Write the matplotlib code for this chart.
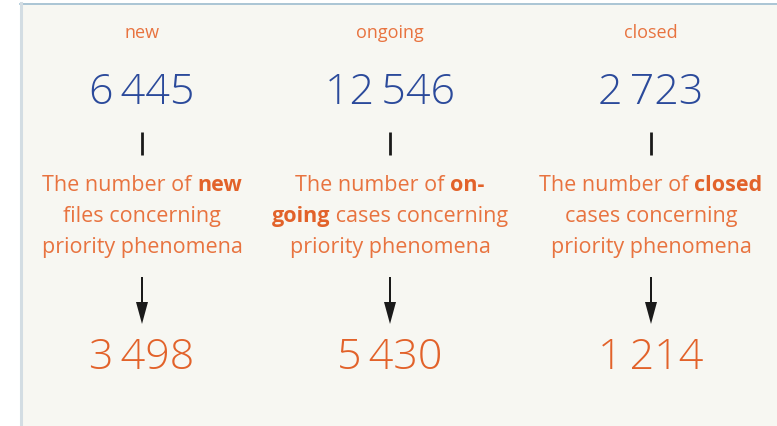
import matplotlib
matplotlib.use("Agg")
import matplotlib.pyplot as plt
from matplotlib.patches import FancyArrow

# ---- data ----
categories = ["new", "ongoing", "closed"]
total_values = [6445, 12546, 2723]
priority_values = [3498, 5430, 1214]
# description lines: list of (text, bold) segments per line
descriptions = [
    [[("The number of ", False), ("new", True)],
     [("files concerning", False)],
     [("priority phenomena", False)]],
    [[("The number of ", False), ("on-", True)],
     [("going", True), (" cases concerning", False)],
     [("priority phenomena", False)]],
    [[("The number of ", False), ("closed", True)],
     [("cases concerning", False)],
     [("priority phenomena", False)]],
]

# ---- style ----
W, H = 777, 427
BG_PANEL = "#f7f7f2"
BLUE = "#2b4a9b"
ORANGE = "#e2622a"
ORANGE_LIGHT = "#e8733f"
FAM = ["Open Sans", "DejaVu Sans"]


def fmt(v):
    s = f"{v:,}"
    return s.replace(",", "\u2006")


fig = plt.figure(figsize=(W / 100, H / 100), dpi=100)
fig.patch.set_facecolor("white")
ax = fig.add_axes([0, 0, 1, 1])
ax.set_xlim(0, W)
ax.set_ylim(H, 0)
ax.axis("off")

# panel
ax.add_patch(plt.Rectangle((20, 4), W - 20, H - 4, facecolor=BG_PANEL,
                           edgecolor="none", zorder=0))
ax.plot([20, W], [4.5, 4.5], color="#9dbdd0", lw=1.2, zorder=1)
ax.plot([20.5, 20.5], [4, H], color="#d3dde3", lw=2.2, zorder=1)

xs = [142, 390, 651]

fig.canvas.draw()
renderer = fig.canvas.get_renderer()

for i, cat in enumerate(categories):
    x = xs[i]
    ax.text(x, 33, cat, ha="center", va="center", fontsize=13,
            color=ORANGE_LIGHT, family=FAM)
    ax.text(x, 93, fmt(total_values[i]), ha="center", va="center",
            fontsize=31, color=BLUE, family=FAM, fontweight="light")
    ax.plot([x, x], [133, 156], color="#1a1a1a", lw=2.0,
            solid_capstyle="butt")

    baselines = [191, 222, 253]
    for line, yb in zip(descriptions[i], baselines):
        texts = []
        for seg, bold in line:
            t = ax.text(0, yb, seg, ha="left", va="baseline", fontsize=15.5,
                        color=ORANGE if bold else ORANGE_LIGHT,
                        fontweight="bold" if bold else "normal", family=FAM)
            texts.append(t)
        widths = [t.get_window_extent(renderer).width for t in texts]
        total = sum(widths)
        cur = x - total / 2
        for t, w in zip(texts, widths):
            t.set_x(cur)
            cur += w

    ax.add_patch(FancyArrow(x, 278, 0, 47, width=2.0, head_width=12,
                            head_length=22, length_includes_head=True,
                            color="#1a1a1a", lw=0))
    ax.text(x, 358, fmt(priority_values[i]), ha="center", va="center",
            fontsize=31, color=ORANGE, family=FAM, fontweight="light")

fig.savefig("out.png", dpi=100, facecolor="white")
